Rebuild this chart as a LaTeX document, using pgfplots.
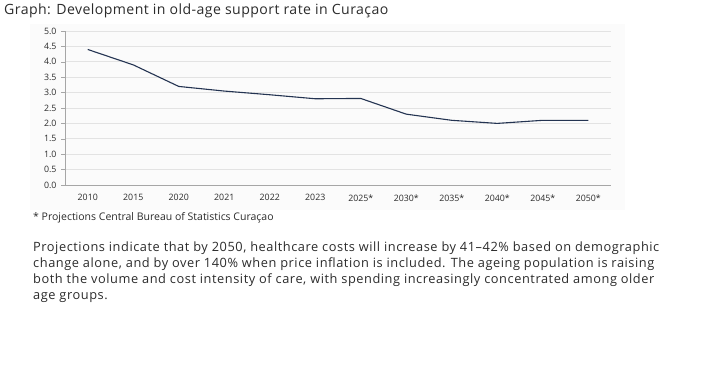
\documentclass[border=0pt]{standalone}
\usepackage{pgfplots}
\pgfplotsset{compat=1.18}
\usepackage{fontspec}
\setmainfont{Open Sans}
\newfontfamily\paraf[LetterSpace=4.3]{Open Sans}
\newfontfamily\titlef[LetterSpace=3]{Open Sans}
\definecolor{navy}{HTML}{243452}
\definecolor{txt}{HTML}{2B2B2B}
\definecolor{gridc}{HTML}{E3E3E3}
\definecolor{axc}{HTML}{A6A6A6}
\definecolor{panel}{HTML}{FBFBFB}
\begin{document}
\begin{tikzpicture}[x=1pt,y=1pt]
\useasboundingbox (0,0) rectangle (705,367);
\fill[panel] (30,367-210) rectangle (625,367-24);
\node[anchor=base west,font=\titlef\fontsize{14.1}{16}\selectfont,text=txt,inner sep=0] at (4,367-15) {Graph: Development in old-age support rate in Curaçao};
\begin{axis}[
  at={(87.75pt,182pt)}, anchor=origin,
  scale only axis, width=546pt, height=154pt,
  xmin=-0.5, xmax=11.5, ymin=0, ymax=5,
  axis x line*=bottom, axis y line*=left,
  axis line style={axc},
  xtick={0,...,11},
  xticklabels={2010,2015,2020,2021,2022,2023,2025*,2030*,2035*,2040*,2045*,2050*},
  major x tick style={draw=none},
  extra x ticks={-0.5,0.5,...,11.5},
  extra x tick labels={},
  extra x tick style={grid=none, major tick length=4pt, tick style={axc}},
  ytick={0,0.5,...,5},
  yticklabel style={/pgf/number format/fixed,/pgf/number format/fixed zerofill,/pgf/number format/precision=1},
  /pgf/number format/assume math mode=true,
  ymajorgrids, grid style={gridc, line width=0.6pt},
  tick style={axc}, major tick length=4pt, tick align=outside,
  ticklabel style={font=\fontsize{8.8}{10}\selectfont, text=txt},
  xticklabel style={yshift=-2pt},
  yticklabel style={xshift=-1pt},
  clip=false,
]
\addplot[navy, line width=1.1pt] coordinates {
(0,4.4) (1,3.9) (2,3.2) (3,3.05) (4,2.93) (5,2.8) (6,2.81) (7,2.3) (8,2.1) (9,2.0) (10,2.1) (11,2.1)};
\end{axis}
\node[anchor=base west,font=\fontsize{10.5}{12}\selectfont,text=txt,inner sep=0] at (33,367-221) {* Projections Central Bureau of Statistics Curaçao};
\begin{scope}[every node/.style={anchor=base west,font=\paraf\fontsize{12.8}{15}\selectfont,text=txt,inner sep=0}]
\node at (33,367-252) {Projections indicate that by 2050, healthcare costs will increase by 41–42\% based on demographic};
\node at (33,367-268) {change alone, and by over 140\% when price inflation is included. The ageing population is raising};
\node at (33,367-284) {both the volume and cost intensity of care, with spending increasingly concentrated among older};
\node at (33,367-300) {age groups.};
\end{scope}
\end{tikzpicture}
\end{document}
